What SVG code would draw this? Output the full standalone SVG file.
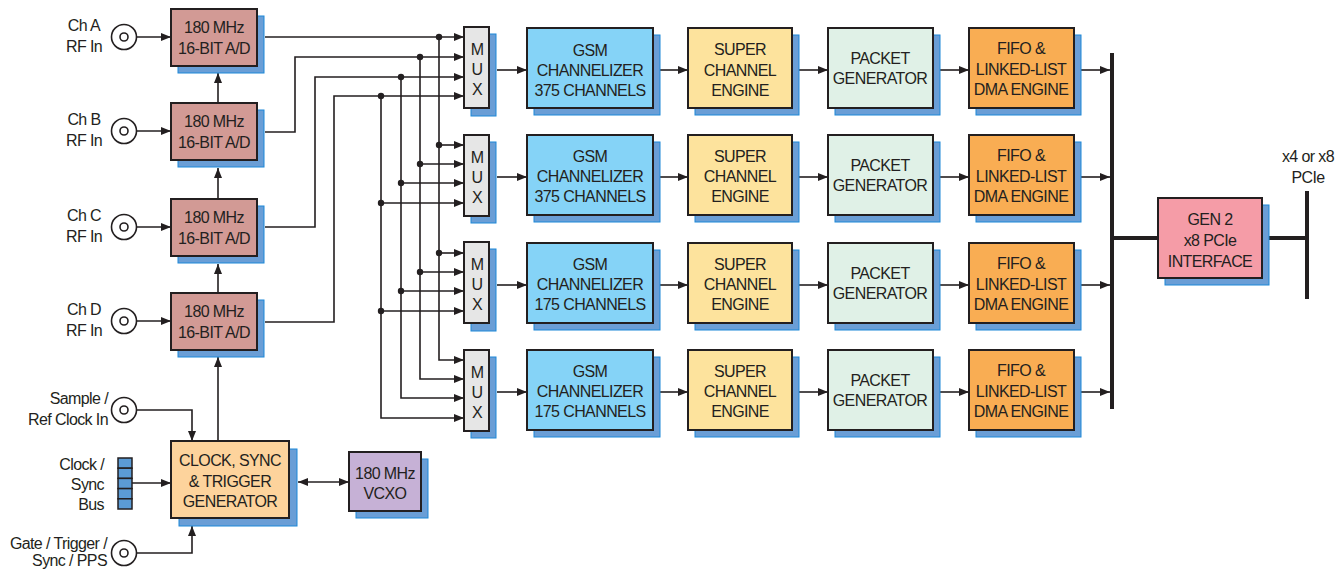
<svg xmlns="http://www.w3.org/2000/svg" width="1343" height="570" viewBox="0 0 1343 570">
<style>
text{font-family:"Liberation Sans",Arial,sans-serif;font-size:16px;fill:#231f20;letter-spacing:-0.6px;text-anchor:middle}
.end{text-anchor:end}
.sh{fill:#6a9ed6;stroke:#1c88d8;stroke-width:1}
.bx{stroke:#231f20;stroke-width:2}
.ad{fill:#d29a95}
.mux{fill:#e6e6e6}
.gsm{fill:#85d3f7}
.sup{fill:#fde39d}
.pkt{fill:#e0f1e7}
.fifo{fill:#f9ad53}
.gen{fill:#f59ca7}
.clk{fill:#fdd39c}
.vcxo{fill:#c6b1d6}
.ln{fill:none;stroke:#231f20;stroke-width:1.6}
.arr{marker-end:url(#ah)}
.bus{fill:none;stroke:#231f20;stroke-width:4}
.dot{fill:#231f20}
.conn{fill:#fff;stroke:#231f20;stroke-width:1.6}
.cell{fill:#5b9bd5;stroke:#231f20;stroke-width:1.5}
</style>
<defs>
<marker id="ah" markerUnits="userSpaceOnUse" markerWidth="10" markerHeight="8" refX="10" refY="4" orient="auto-start-reverse">
<path d="M0,0 L10,4 L0,8 z" fill="#231f20"/>
</marker>
</defs>

<!-- connectors -->
<g id="connectors">
<path class="ln arr" d="M128,37 H171"/>
<path class="ln arr" d="M128,131 H171"/>
<path class="ln arr" d="M128,227 H171"/>
<path class="ln arr" d="M128,321 H171"/>
<path class="ln arr" d="M218,103 V73"/>
<path class="ln arr" d="M218,199 V168"/>
<path class="ln arr" d="M218,293 V264"/>
<path class="ln arr" d="M218,441 V357"/>
<path class="ln arr" d="M128,410 H192 V441"/>
<path class="ln arr" d="M132,483 H171"/>
<path class="ln arr" d="M128,553 H192 V526"/>
<path class="ln arr" d="M298,482 H349" marker-start="url(#ah)"/>
<path class="ln arr" d="M265,37 H464"/>
<path class="ln arr" d="M265,132 H295 V57 H464"/>
<path class="ln arr" d="M265,227 H315 V77 H464"/>
<path class="ln arr" d="M265,322 H334 V96 H464"/>
<path class="ln arr" d="M439,37 V360 H464"/>
<path class="ln arr" d="M420,57 V379 H464"/>
<path class="ln arr" d="M401,77 V398 H464"/>
<path class="ln arr" d="M381,96 V418 H464"/>
<path class="ln arr" d="M439,145 H464"/>
<path class="ln arr" d="M420,164 H464"/>
<path class="ln arr" d="M401,183 H464"/>
<path class="ln arr" d="M381,203 H464"/>
<path class="ln arr" d="M439,253 H464"/>
<path class="ln arr" d="M420,272 H464"/>
<path class="ln arr" d="M401,291 H464"/>
<path class="ln arr" d="M381,311 H464"/>
<circle class="dot" cx="439" cy="37" r="3.2"/>
<circle class="dot" cx="420" cy="57" r="3.2"/>
<circle class="dot" cx="401" cy="77" r="3.2"/>
<circle class="dot" cx="381" cy="96" r="3.2"/>
<circle class="dot" cx="439" cy="145" r="3.2"/>
<circle class="dot" cx="420" cy="164" r="3.2"/>
<circle class="dot" cx="401" cy="183" r="3.2"/>
<circle class="dot" cx="381" cy="203" r="3.2"/>
<circle class="dot" cx="439" cy="253" r="3.2"/>
<circle class="dot" cx="420" cy="272" r="3.2"/>
<circle class="dot" cx="401" cy="291" r="3.2"/>
<circle class="dot" cx="381" cy="311" r="3.2"/>
<path class="ln arr" d="M497,70 H527"/>
<path class="ln arr" d="M660,70 H688"/>
<path class="ln arr" d="M799,70 H828"/>
<path class="ln arr" d="M940,70 H969"/>
<path class="ln arr" d="M1081,70 H1110"/>
<path class="ln arr" d="M497,177 H527"/>
<path class="ln arr" d="M660,177 H688"/>
<path class="ln arr" d="M799,177 H828"/>
<path class="ln arr" d="M940,177 H969"/>
<path class="ln arr" d="M1081,177 H1110"/>
<path class="ln arr" d="M497,285 H527"/>
<path class="ln arr" d="M660,285 H688"/>
<path class="ln arr" d="M799,285 H828"/>
<path class="ln arr" d="M940,285 H969"/>
<path class="ln arr" d="M1081,285 H1110"/>
<path class="ln arr" d="M497,392 H527"/>
<path class="ln arr" d="M660,392 H688"/>
<path class="ln arr" d="M799,392 H828"/>
<path class="ln arr" d="M940,392 H969"/>
<path class="ln arr" d="M1081,392 H1110"/>
<path class="bus" d="M1112,53 V409"/>
<path class="bus" d="M1112,238 H1158"/>
<path class="bus" d="M1269,238 H1307"/>
<path class="bus" d="M1307,191 V299"/>
</g>

<!-- input connectors -->
<g id="in-cha"><circle class="conn" cx="124" cy="37" r="12.5"/><circle class="conn" cx="124" cy="37" r="4"/><text x="84" y="31">Ch A</text><text x="84" y="52">RF In</text></g>
<g id="in-chb"><circle class="conn" cx="124" cy="131" r="12.5"/><circle class="conn" cx="124" cy="131" r="4"/><text x="84" y="125">Ch B</text><text x="84" y="146">RF In</text></g>
<g id="in-chc"><circle class="conn" cx="124" cy="227" r="12.5"/><circle class="conn" cx="124" cy="227" r="4"/><text x="84" y="221">Ch C</text><text x="84" y="242">RF In</text></g>
<g id="in-chd"><circle class="conn" cx="124" cy="321" r="12.5"/><circle class="conn" cx="124" cy="321" r="4"/><text x="84" y="315">Ch D</text><text x="84" y="336">RF In</text></g>
<g id="in-refclk"><circle class="conn" cx="124" cy="410" r="12.5"/><circle class="conn" cx="124" cy="410" r="4"/><text class="end" x="108" y="404">Sample /</text><text class="end" x="108" y="425">Ref Clock In</text></g>
<g id="in-syncbus">
<rect class="cell" x="118" y="458" width="14" height="10.2"/><rect class="cell" x="118" y="468.2" width="14" height="10.2"/><rect class="cell" x="118" y="478.4" width="14" height="10.2"/><rect class="cell" x="118" y="488.6" width="14" height="10.2"/><rect class="cell" x="118" y="498.8" width="14" height="10.2"/>
<text class="end" x="104" y="470">Clock /</text><text class="end" x="104" y="490">Sync</text><text class="end" x="104" y="510">Bus</text></g>
<g id="in-gate"><circle class="conn" cx="124" cy="553" r="12.5"/><circle class="conn" cx="124" cy="553" r="4"/><text class="end" x="107" y="549">Gate / Trigger /</text><text class="end" x="107" y="566">Sync / PPS</text></g>

<!-- A/D -->
<g id="ad-a"><rect class="sh" x="178" y="16" width="86" height="57"/><rect class="bx ad" x="171" y="9" width="86" height="57"/><text x="214" y="33">180 MHz</text><text x="214" y="54">16-BIT A/D</text></g>
<g id="ad-b"><rect class="sh" x="178" y="110" width="86" height="57"/><rect class="bx ad" x="171" y="103" width="86" height="57"/><text x="214" y="127">180 MHz</text><text x="214" y="148">16-BIT A/D</text></g>
<g id="ad-c"><rect class="sh" x="178" y="206" width="86" height="57"/><rect class="bx ad" x="171" y="199" width="86" height="57"/><text x="214" y="223">180 MHz</text><text x="214" y="244">16-BIT A/D</text></g>
<g id="ad-d"><rect class="sh" x="178" y="300" width="86" height="57"/><rect class="bx ad" x="171" y="293" width="86" height="57"/><text x="214" y="317">180 MHz</text><text x="214" y="338">16-BIT A/D</text></g>

<!-- clock & vcxo -->
<g id="clock"><rect class="sh" x="179" y="449" width="118" height="77"/><rect class="bx clk" x="171" y="441" width="118" height="77"/><text x="230" y="466">CLOCK, SYNC</text><text x="230" y="487">&amp; TRIGGER</text><text x="230" y="507">GENERATOR</text></g>
<g id="vcxo"><rect class="sh" x="356" y="459" width="72" height="59"/><rect class="bx vcxo" x="349" y="452" width="72" height="59"/><text x="385" y="479">180 MHz</text><text x="385" y="499">VCXO</text></g>

<!-- row 1 -->
<g id="mux1"><rect class="sh" x="471" y="34" width="25" height="82"/><rect class="bx mux" x="464" y="27" width="25" height="81"/><text x="477" y="55">M</text><text x="477" y="75">U</text><text x="477" y="95">X</text></g>
<g id="gsm1"><rect class="sh" x="534" y="35" width="126" height="80"/><rect class="bx gsm" x="527" y="28" width="126" height="80"/><text x="590" y="56">GSM</text><text x="590" y="76">CHANNELIZER</text><text x="590" y="96">375 CHANNELS</text></g>
<g id="sce1"><rect class="sh" x="695" y="35" width="104" height="80"/><rect class="bx sup" x="688" y="28" width="104" height="80"/><text x="740" y="55">SUPER</text><text x="740" y="76">CHANNEL</text><text x="740" y="96">ENGINE</text></g>
<g id="pkt1"><rect class="sh" x="835" y="35" width="105" height="80"/><rect class="bx pkt" x="828" y="28" width="105" height="80"/><text x="880" y="64">PACKET</text><text x="880" y="84">GENERATOR</text></g>
<g id="fifo1"><rect class="sh" x="976" y="35" width="105" height="80"/><rect class="bx fifo" x="969" y="28" width="105" height="80"/><text x="1021" y="54">FIFO &amp;</text><text x="1021" y="75">LINKED-LIST</text><text x="1021" y="95">DMA ENGINE</text></g>

<!-- row 2 -->
<g id="mux2"><rect class="sh" x="471" y="142" width="25" height="81"/><rect class="bx mux" x="464" y="135" width="25" height="81"/><text x="477" y="163">M</text><text x="477" y="183">U</text><text x="477" y="203">X</text></g>
<g id="gsm2"><rect class="sh" x="534" y="142" width="126" height="80"/><rect class="bx gsm" x="527" y="135" width="126" height="80"/><text x="590" y="162">GSM</text><text x="590" y="182">CHANNELIZER</text><text x="590" y="202">375 CHANNELS</text></g>
<g id="sce2"><rect class="sh" x="695" y="142" width="104" height="80"/><rect class="bx sup" x="688" y="135" width="104" height="80"/><text x="740" y="162">SUPER</text><text x="740" y="182">CHANNEL</text><text x="740" y="202">ENGINE</text></g>
<g id="pkt2"><rect class="sh" x="835" y="142" width="105" height="80"/><rect class="bx pkt" x="828" y="135" width="105" height="80"/><text x="880" y="171">PACKET</text><text x="880" y="191">GENERATOR</text></g>
<g id="fifo2"><rect class="sh" x="976" y="142" width="105" height="80"/><rect class="bx fifo" x="969" y="135" width="105" height="80"/><text x="1021" y="161">FIFO &amp;</text><text x="1021" y="182">LINKED-LIST</text><text x="1021" y="202">DMA ENGINE</text></g>

<!-- row 3 -->
<g id="mux3"><rect class="sh" x="471" y="249" width="25" height="82"/><rect class="bx mux" x="464" y="242" width="25" height="81"/><text x="477" y="270">M</text><text x="477" y="290">U</text><text x="477" y="310">X</text></g>
<g id="gsm3"><rect class="sh" x="534" y="250" width="126" height="80"/><rect class="bx gsm" x="527" y="243" width="126" height="80"/><text x="590" y="270">GSM</text><text x="590" y="290">CHANNELIZER</text><text x="590" y="310">175 CHANNELS</text></g>
<g id="sce3"><rect class="sh" x="695" y="250" width="104" height="80"/><rect class="bx sup" x="688" y="243" width="104" height="80"/><text x="740" y="270">SUPER</text><text x="740" y="290">CHANNEL</text><text x="740" y="310">ENGINE</text></g>
<g id="pkt3"><rect class="sh" x="835" y="250" width="105" height="80"/><rect class="bx pkt" x="828" y="243" width="105" height="80"/><text x="880" y="279">PACKET</text><text x="880" y="299">GENERATOR</text></g>
<g id="fifo3"><rect class="sh" x="976" y="250" width="105" height="80"/><rect class="bx fifo" x="969" y="243" width="105" height="80"/><text x="1021" y="269">FIFO &amp;</text><text x="1021" y="290">LINKED-LIST</text><text x="1021" y="310">DMA ENGINE</text></g>

<!-- row 4 -->
<g id="mux4"><rect class="sh" x="471" y="357" width="25" height="81"/><rect class="bx mux" x="464" y="350" width="25" height="81"/><text x="477" y="378">M</text><text x="477" y="398">U</text><text x="477" y="418">X</text></g>
<g id="gsm4"><rect class="sh" x="534" y="357" width="126" height="80"/><rect class="bx gsm" x="527" y="350" width="126" height="80"/><text x="590" y="377">GSM</text><text x="590" y="397">CHANNELIZER</text><text x="590" y="417">175 CHANNELS</text></g>
<g id="sce4"><rect class="sh" x="695" y="357" width="104" height="80"/><rect class="bx sup" x="688" y="350" width="104" height="80"/><text x="740" y="377">SUPER</text><text x="740" y="397">CHANNEL</text><text x="740" y="417">ENGINE</text></g>
<g id="pkt4"><rect class="sh" x="835" y="357" width="105" height="80"/><rect class="bx pkt" x="828" y="350" width="105" height="80"/><text x="880" y="386">PACKET</text><text x="880" y="406">GENERATOR</text></g>
<g id="fifo4"><rect class="sh" x="976" y="357" width="105" height="80"/><rect class="bx fifo" x="969" y="350" width="105" height="80"/><text x="1021" y="376">FIFO &amp;</text><text x="1021" y="397">LINKED-LIST</text><text x="1021" y="417">DMA ENGINE</text></g>

<!-- PCIe -->
<g id="gen2"><rect class="sh" x="1165" y="205" width="104" height="80"/><rect class="bx gen" x="1158" y="198" width="104" height="80"/><text x="1210" y="225">GEN 2</text><text x="1210" y="246">x8 PCIe</text><text x="1210" y="267">INTERFACE</text></g>
<g id="pcie-label"><text x="1308" y="162">x4 or x8</text><text x="1308" y="183">PCIe</text></g>
</svg>
